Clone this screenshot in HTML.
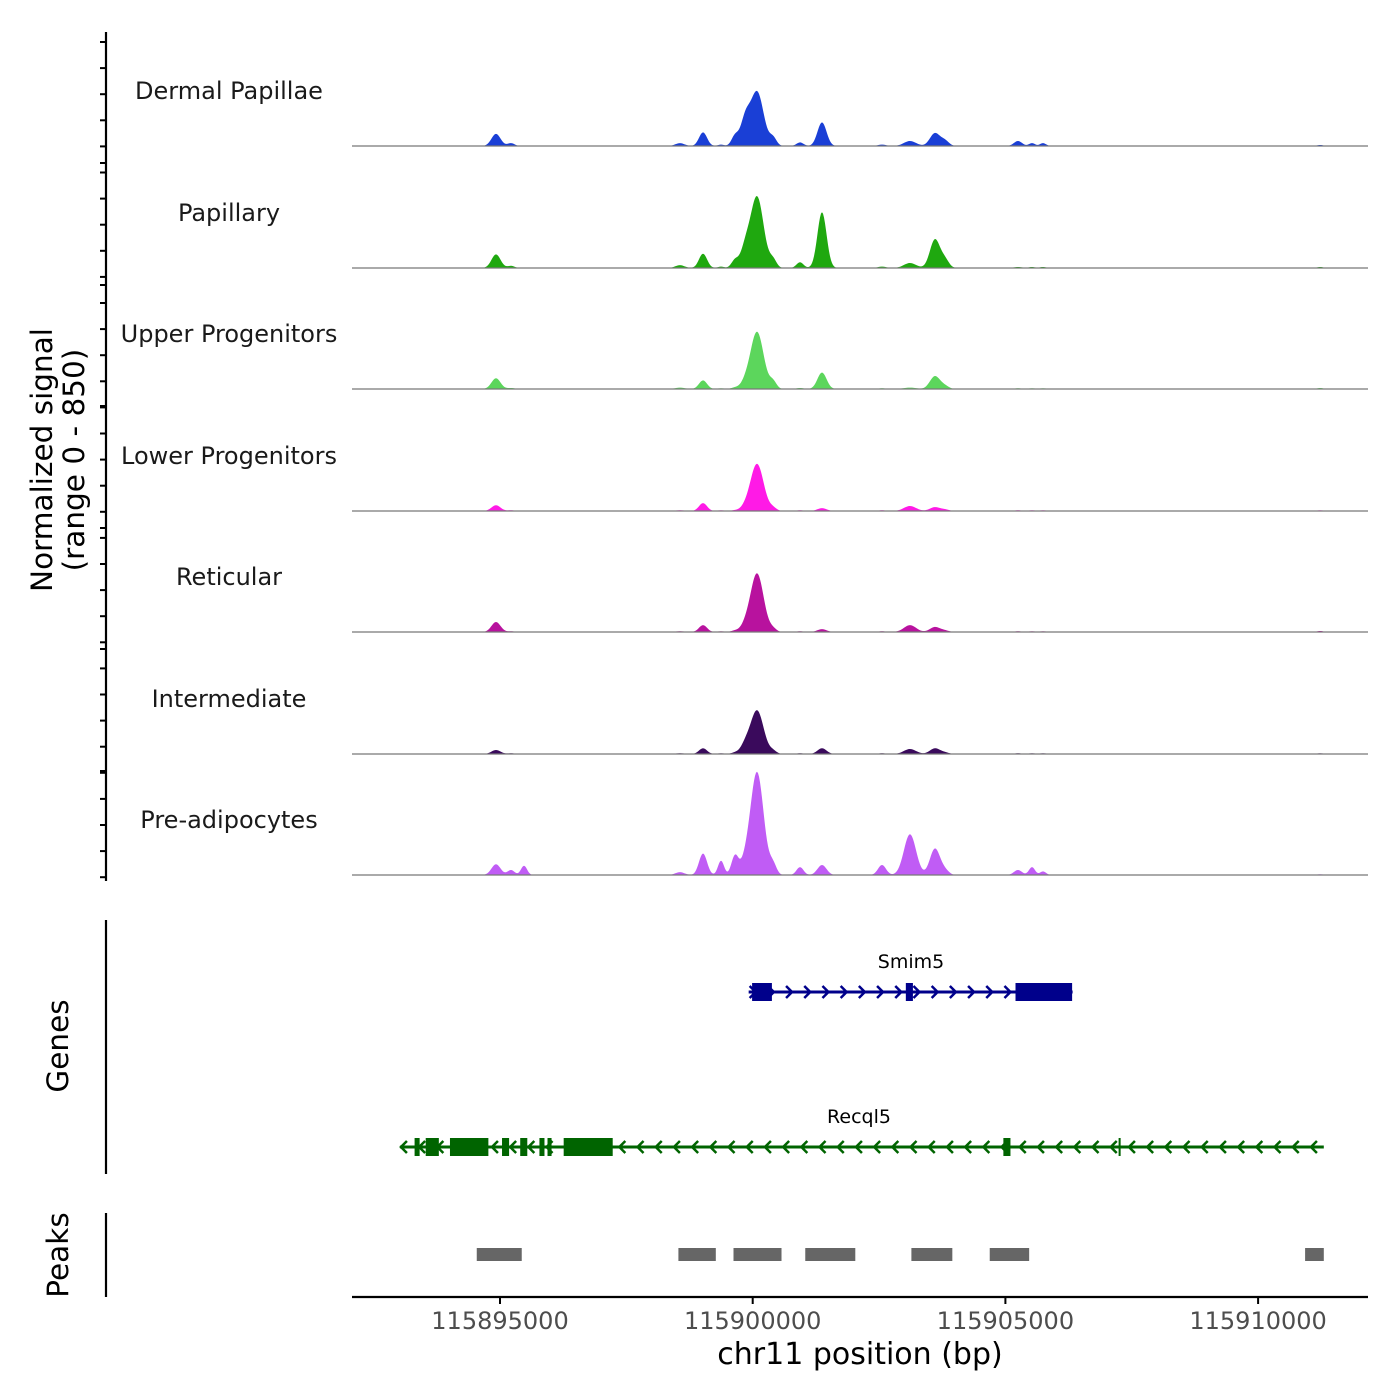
<!DOCTYPE html>
<html><head><meta charset="utf-8"><style>
html,body{margin:0;padding:0;background:#fff}
svg{display:block;font-family:"DejaVu Sans","Liberation Sans",sans-serif}
</style></head><body>
<svg id="chart" width="1400" height="1400" viewBox="0 0 1400 1400">
<g id="tracks"></g>
<g id="yaxis"></g>
<text transform="translate(52,460) rotate(-90)" text-anchor="middle" font-size="29.5" fill="#000">Normalized signal</text>
<text transform="translate(84,460) rotate(-90)" text-anchor="middle" font-size="29.5" fill="#000">(range 0 - 850)</text>
<line x1="106" y1="920" x2="106" y2="1174" stroke="#000" stroke-width="2.2"/>
<text transform="translate(68,1046) rotate(-90)" text-anchor="middle" font-size="29.5">Genes</text>
<line x1="106" y1="1213" x2="106" y2="1297" stroke="#000" stroke-width="2.2"/>
<text transform="translate(68,1255) rotate(-90)" text-anchor="middle" font-size="29.5">Peaks</text>
<g id="genes"></g>
<g id="peaks"></g>
<g id="xaxis"></g>
<text x="860" y="1364" text-anchor="middle" font-size="30">chr11 position (bp)</text>
</svg>
<script>
const trackNames = ["Dermal Papillae","Papillary","Upper Progenitors","Lower Progenitors","Reticular","Intermediate","Pre-adipocytes"];
const trackColors = ["#1a3fd6","#1fa80f","#5cd65c","#ff1ae6","#b8129e","#3a0a5c","#c05cf5"];
const peakCenters = [115894921,115895218,115895475,115898561,115899017,115899373,115899650,115899848,115900085,115900402,115900936,115901371,115902558,115903112,115903607,115903805,115905249,115905526,115905744,115911226];
const peakWidths  = [90,70,60,90,80,60,70,90,130,70,70,90,80,120,100,80,80,60,60,60];
const sigDP  = [85,20,0,20,95,10,70,170,380,55,25,165,10,35,90,35,35,20,20,7];
const sigPap = [95,15,0,20,100,10,55,120,500,55,40,390,10,35,200,55,7,7,7,7];
const sigUp  = [75,7,0,10,60,5,10,35,400,50,7,115,5,10,90,20,5,5,5,7];
const sigLow = [40,5,0,5,55,5,5,20,330,20,5,20,5,35,27,10,5,5,5,5];
const sigRet = [70,5,0,5,48,5,10,35,410,20,5,20,5,48,35,10,5,5,5,7];
const sigInt = [28,5,0,5,40,5,10,55,305,20,5,40,5,35,40,10,5,5,5,5];
const sigPre = [75,35,65,20,150,100,135,70,720,70,55,70,70,285,185,30,35,55,25,5];
const signals = [sigDP,sigPap,sigUp,sigLow,sigRet,sigInt,sigPre];
const xTicks = [115895000,115900000,115905000,115910000];
const xTickLabels = ["115895000","115900000","115905000","115910000"];
const smimExons = [[115899988,115900380],[115903030,115903170],[115905200,115906320]];
const smimSpan = [115899920,115906330];
const recqExons = [[115893310,115893410],[115893530,115893790],[115894010,115894770],[115895040,115895180],[115895400,115895540],[115895780,115895880],[115895940,115896020],[115896260,115897230],[115904960,115905100],[115907240,115907280]];
const recqSpan = [115893020,115911300];
const peakRegions = [[115894540,115895430],[115898530,115899270],[115899620,115900570],[115901040,115902030],[115903140,115903950],[115904690,115905470],[115910930,115911300]];

const NS="http://www.w3.org/2000/svg";
function mk(tag,attrs,parent){const e=document.createElementNS(NS,tag);for(const k in attrs)e.setAttribute(k,attrs[k]);parent.appendChild(e);return e;}
const X0=352,X1=1368;
function xs(bp){return 500+(bp-115895000)*252.7/5000;}
const baselines=[146,268,389,511,632,754,875];
const trackH=121.5, yMax=850;
const tracks=document.getElementById('tracks');
signals.forEach((vals,t)=>{
  const base=baselines[t];
  const g=mk('g',{},tracks);
  
  
  let d='M'+X0+','+base;
  for(let px=X0;px<=X1;px+=1){
    let v=0;
    peakCenters.forEach((c,i)=>{const dx=(xs(c)-px)/(peakWidths[i]*252.7/5000);v+=vals[i]*Math.exp(-0.5*dx*dx);});
    d+=' L'+px+','+(base-Math.min(v,yMax)/yMax*trackH).toFixed(2);
  }
  d+=' L'+X1+','+base+' Z';
  const p=mk('path',{d:d,fill:trackColors[t]},g);
  
  
  const l=mk('line',{x1:X0,x2:X1,y1:base,y2:base,stroke:'#777','stroke-width':1.2},g);
  
  
  const tx=mk('text',{x:229,y:base-47,'text-anchor':'middle','font-size':24,fill:'#1a1a1a'},g);
  tx.textContent=trackNames[t];
  
  
});
const ya=document.getElementById('yaxis');
mk('line',{x1:106,y1:32,x2:106,y2:881,stroke:'#000','stroke-width':2.2},ya);
for(let y=42;y<=878;y+=26.1){mk('line',{x1:100,x2:106,y1:y,y2:y,stroke:'#000','stroke-width':2},ya);}
baselines.forEach(b=>{const y=b+17;if(y<878)mk('line',{x1:100,x2:106,y1:y,y2:y,stroke:'#000','stroke-width':2},ya);});

const genes=document.getElementById('genes');
function drawGene(span,exons,y,color,dir,label,lx){
  const g=mk('g',{},genes);
  
  
  mk('line',{x1:xs(span[0]),x2:xs(span[1]),y1:y,y2:y,stroke:color,'stroke-width':3},g);
  const a0=xs(span[0])+4, a1=xs(span[1]);
  for(let x=a0;x<a1;x+=18.2){
    const d=dir>0?`M${x-3},${y-6} L${x+3},${y} L${x-3},${y+6}`:`M${x+3},${y-6} L${x-3},${y} L${x+3},${y+6}`;
    mk('path',{d:d,stroke:color,'stroke-width':2.5,fill:'none'},g);
  }
  exons.forEach(e=>{const r=mk('rect',{x:xs(e[0]),y:y-9,width:Math.max(2,xs(e[1])-xs(e[0])),height:18,fill:color},g);});
  const t=mk('text',{x:lx,y:y-24,'text-anchor':'middle','font-size':19},g);
  t.textContent=label;
}
drawGene(smimSpan,smimExons,992,'#00008b',1,'Smim5',911);
drawGene(recqSpan,recqExons,1147,'#006400',-1,'Recql5',859);

const pk=document.getElementById('peaks');
peakRegions.forEach(r=>{const e=mk('rect',{x:xs(r[0]),y:1248,width:xs(r[1])-xs(r[0]),height:13,fill:'#666'},pk);});

const xa=document.getElementById('xaxis');
mk('line',{x1:X0,x2:X1,y1:1297,y2:1297,stroke:'#000','stroke-width':2.2},xa);
xTicks.forEach((v,i)=>{const x=xs(v);mk('line',{x1:x,x2:x,y1:1297,y2:1304,stroke:'#000','stroke-width':2},xa);
  const t=mk('text',{x:x,y:1329,'text-anchor':'middle','font-size':24,fill:'#4d4d4d'},xa);t.textContent=xTickLabels[i];
  });
</script>
</body></html>
